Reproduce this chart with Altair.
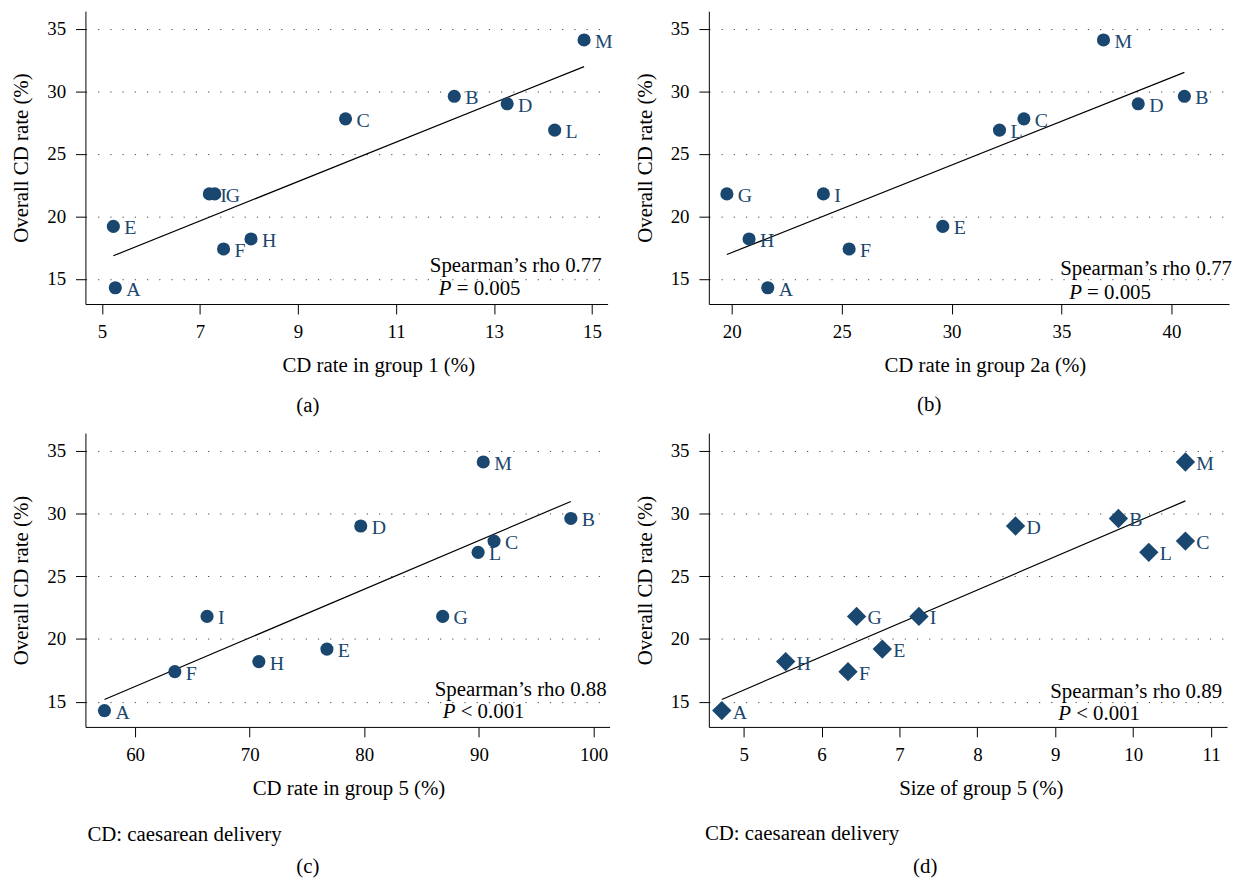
import altair as alt
import pandas as pd

# ---- data ----
labels = ["A", "B", "C", "D", "E", "F", "G", "H", "I", "L", "M"]
overall_cd = [14.3, 29.6, 27.8, 29.0, 19.2, 17.4, 21.8, 18.2, 21.8, 26.9, 34.1]
cd_group1 = [5.27, 12.19, 9.97, 13.27, 5.23, 7.48, 7.30, 8.04, 7.19, 14.24, 14.84]
cd_group2a = [21.64, 40.59, 33.29, 38.49, 29.60, 25.34, 19.78, 20.79, 24.17, 32.18, 36.91]
cd_group5 = [57.33, 98.02, 91.32, 79.69, 76.74, 63.47, 86.84, 70.80, 66.28, 89.93, 90.38]
size_group5 = [4.72, 9.81, 10.67, 8.49, 6.78, 6.34, 6.45, 5.54, 7.25, 10.20, 10.67]

x_titles = ["CD rate in group 1 (%)", "CD rate in group 2a (%)",
            "CD rate in group 5 (%)", "Size of group 5 (%)"]
rho_texts = ["Spearman\u2019s rho 0.77", "Spearman\u2019s rho 0.77",
             "Spearman\u2019s rho 0.88", "Spearman\u2019s rho 0.89"]
p_texts = ["= 0.005", "= 0.005", "< 0.001", "< 0.001"]
captions = ["(a)", "(b)", "(c)", "(d)"]
note_text = "CD: caesarean delivery"
y_title = "Overall CD rate (%)"

x_ticks = [[5, 7, 9, 11, 13, 15], [20, 25, 30, 35, 40],
           [60, 70, 80, 90, 100], [5, 6, 7, 8, 9, 10, 11]]
y_ticks = [15, 20, 25, 30, 35]

# ---- styling / layout ----
FONT = "Liberation Serif"
NAVY = "#1a476f"
TXT = 21
x_domains = [[4.66, 15.32], [18.96, 42.62], [55.67, 101.4], [4.554, 11.204]]
widths = [526, 524, 528, 522]
heights = [295, 295, 296, 296]
title_x = [295, 278, 265, 274]
shapes = ["circle", "circle", "circle", "diamond"]
sizes = [175, 175, 175, 380]
rho_pos = [(520, 257), (527, 260), (525, 259), (517, 261)]
p_pos = [(356, 280), (363, 284), (360, 281), (352, 283)]
cap_pos = [(224, 398), (222, 397), (224, 437), (218, 437)]
note_pos = [None, None, (2, 405), (-4, 404)]


def text_layer(txt, x, y, align="left", style="normal"):
    return alt.Chart(pd.DataFrame({"t": [txt]})).mark_text(
        font=FONT, fontSize=TXT, color="black", align=align,
        baseline="middle", fontStyle=style
    ).encode(x=alt.value(x), y=alt.value(y), text="t:N")


def panel(i, xvals):
    df = pd.DataFrame({"x": xvals, "y": overall_cd, "lab": labels})
    xs = alt.X("x:Q", scale=alt.Scale(domain=x_domains[i], nice=False, zero=False),
               axis=alt.Axis(values=x_ticks[i], format="d", title=x_titles[i],
                             titleX=title_x[i]))
    ys = alt.Y("y:Q", scale=alt.Scale(domain=[13.0, 36.4], nice=False, zero=False),
               axis=alt.Axis(values=y_ticks, format="d", title=y_title))
    base = alt.Chart(df)
    pts = base.mark_point(filled=True, shape=shapes[i], size=sizes[i],
                          color=NAVY, opacity=1).encode(x=xs, y=ys)
    labs = base.mark_text(align="left", baseline="middle", dx=11, dy=2,
                          font=FONT, fontSize=20, color=NAVY).encode(
        x="x:Q", y="y:Q", text="lab:N")
    reg = base.transform_regression("x", "y").mark_line(
        color="black", strokeWidth=1.2).encode(x="x:Q", y="y:Q")
    layers = [reg, pts, labs,
              text_layer(rho_texts[i], rho_pos[i][0], rho_pos[i][1], align="right"),
              text_layer("P", p_pos[i][0], p_pos[i][1], style="italic"),
              text_layer(p_texts[i], p_pos[i][0] + 18, p_pos[i][1]),
              text_layer(captions[i], cap_pos[i][0], cap_pos[i][1], align="center")]
    if note_pos[i] is not None:
        layers.append(text_layer(note_text, note_pos[i][0], note_pos[i][1]))
    return alt.layer(*layers).properties(width=widths[i], height=heights[i])


a = panel(0, cd_group1)
b = panel(1, cd_group2a)
c = panel(2, cd_group5)
d = panel(3, size_group5)

chart = alt.concat(
    a, b, c, d, columns=2, bounds="flush",
    spacing=alt.RowColnumber(row=130, column=100)
).resolve_scale(x="independent", y="independent").properties(
    padding={"left": 3, "top": 0, "right": 0, "bottom": 0}, background="white"
).configure_view(stroke=None).configure_axis(
    labelFont=FONT, titleFont=FONT, labelFontSize=19, titleFontSize=TXT,
    labelColor="black", titleColor="black", titleFontWeight="normal",
    domainColor="black", tickColor="black", tickSize=10, domainWidth=1, tickWidth=1,
).configure_axisY(
    grid=True, gridDash=[1.2, 11.1], gridColor="#444444", gridWidth=1,
    labelPadding=10, titlePadding=15
).configure_axisX(
    grid=False, labelPadding=9, titlePadding=13
)

chart.save("out.html", embed_options={"renderer": "svg", "actions": False})
